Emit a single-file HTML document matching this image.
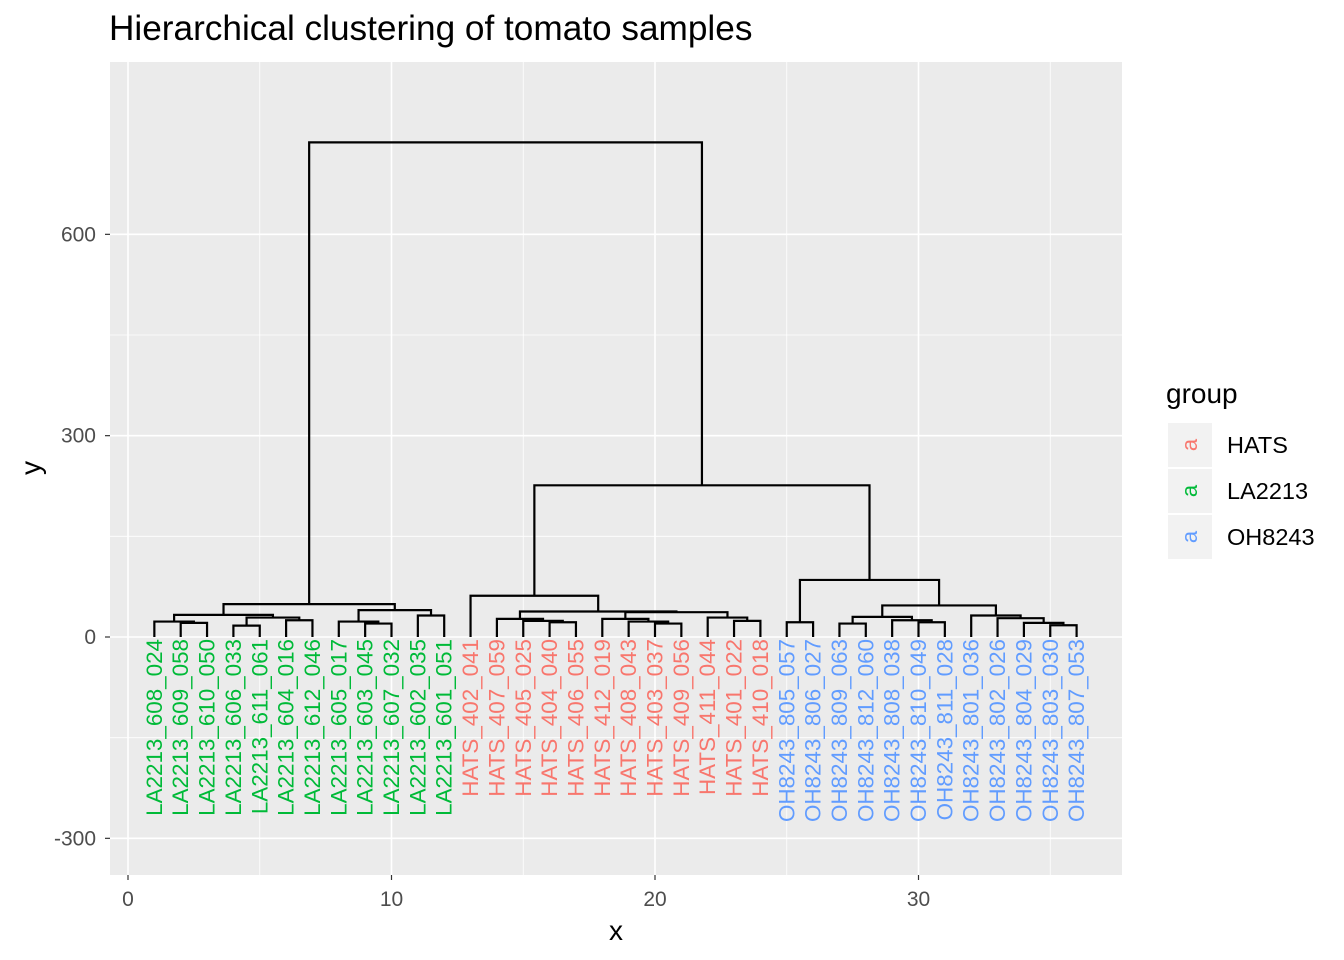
<!DOCTYPE html>
<html><head><meta charset="utf-8"><style>
body{margin:0;background:#fff;}
svg{display:block;font-family:"Liberation Sans",Arial,sans-serif;}
</style></head><body>
<svg id="chart" width="1344" height="960"></svg>
<script>
const leafLabels=["LA2213_608_024","LA2213_609_058","LA2213_610_050","LA2213_606_033","LA2213_611_061","LA2213_604_016","LA2213_612_046","LA2213_605_017","LA2213_603_045","LA2213_607_032","LA2213_602_035","LA2213_601_051",
"HATS_402_041","HATS_407_059","HATS_405_025","HATS_404_040","HATS_406_055","HATS_412_019","HATS_408_043","HATS_403_037","HATS_409_056","HATS_411_044","HATS_401_022","HATS_410_018",
"OH8243_805_057","OH8243_806_027","OH8243_809_063","OH8243_812_060","OH8243_808_038","OH8243_810_049","OH8243_811_028","OH8243_801_036","OH8243_802_026","OH8243_804_029","OH8243_803_030","OH8243_807_053"];
const leafGroups=["LA2213","LA2213","LA2213","LA2213","LA2213","LA2213","LA2213","LA2213","LA2213","LA2213","LA2213","LA2213",
"HATS","HATS","HATS","HATS","HATS","HATS","HATS","HATS","HATS","HATS","HATS","HATS",
"OH8243","OH8243","OH8243","OH8243","OH8243","OH8243","OH8243","OH8243","OH8243","OH8243","OH8243","OH8243"];
const mergeLeft =[-2,-1,-4,-6,3,2,-9,-8,-11,8,6,-16,-15,-14,-20,-19,-18,-23,-22,17,14,-13,-25,-27,-30,-29,24,-35,-34,-33,-32,27,23,22,11];
const mergeRight=[-3,1,-5,-7,4,5,-10,7,-12,9,10,-17,12,13,-21,15,16,-24,18,19,20,21,-26,-28,-31,25,26,-36,28,29,30,31,32,33,34];
const mergeHeight=[21,23,17,25,29,33,20,23,32,40,49,22,24,27,20,23,27,24,29,37,38,61.5,22,20,22,25,30,17.5,21,28,32,47,85,226,737];
const xTicks=[0,10,20,30];
const yTicks=[-300,0,300,600];
const groupNames=["HATS","LA2213","OH8243"];
const groupColors={"HATS":"#F8766D","LA2213":"#00BA38","OH8243":"#619CFF"};

const svg=document.getElementById('chart');
const NS="http://www.w3.org/2000/svg";
function mk(tag,attrs,parent){const e=document.createElementNS(NS,tag);for(const k in attrs)e.setAttribute(k,attrs[k]);(parent||svg).appendChild(e);return e;}
const P={l:110,r:1122,t:62,b:875};
const sx=v=>128+26.35*v;
const sy=v=>637-0.6711*v;

const bg=mk('rect',{x:P.l,y:P.t,width:P.r-P.l,height:P.b-P.t,fill:'#ebebeb'});


for(let i=0;i<xTicks.length;i++){const m=xTicks[i]+5;const g=mk('line',{x1:sx(m),x2:sx(m),y1:P.t,y2:P.b,stroke:'#fff','stroke-width':0.8});}
for(let i=0;i<yTicks.length-1;i++){const m=(yTicks[i]+yTicks[i+1])/2;const g=mk('line',{x1:P.l,x2:P.r,y1:sy(m),y2:sy(m),stroke:'#fff','stroke-width':0.8});}
xTicks.forEach(t=>{
 const g=mk('line',{x1:sx(t),x2:sx(t),y1:P.t,y2:P.b,stroke:'#fff','stroke-width':1.6});
 const k=mk('line',{x1:sx(t),x2:sx(t),y1:P.b,y2:P.b+5,stroke:'#333','stroke-width':1.2});
 const tx=mk('text',{x:sx(t),y:906,'text-anchor':'middle','font-size':21,fill:'#4d4d4d'});tx.textContent=t;
});
yTicks.forEach(t=>{
 const g=mk('line',{x1:P.l,x2:P.r,y1:sy(t),y2:sy(t),stroke:'#fff','stroke-width':1.6});
 const k=mk('line',{x1:P.l-5,x2:P.l,y1:sy(t),y2:sy(t),stroke:'#333','stroke-width':1.2});
 const tx=mk('text',{x:P.l-14,y:sy(t)+7,'text-anchor':'end','font-size':21,fill:'#4d4d4d'});tx.textContent=t;
});

// dendrogram
const cx=[],ch=[];
function pos(id){return id<0?{x:-id,h:0}:{x:cx[id-1],h:ch[id-1]};}
for(let i=0;i<mergeHeight.length;i++){
 const a=pos(mergeLeft[i]),b=pos(mergeRight[i]),h=mergeHeight[i];
 cx.push((a.x+b.x)/2);ch.push(h);
 const p=mk('path',{d:`M${sx(a.x)},${sy(a.h)}V${sy(h)}H${sx(b.x)}V${sy(b.h)}`,fill:'none',stroke:'#000','stroke-width':2.2});
 
 
}
leafLabels.forEach((lab,i)=>{
 const x=sx(i+1),y=639;
 const t=mk('text',{x:0,y:0,transform:`translate(${x+7.5},${y}) rotate(-90)`,'text-anchor':'end','font-size':22.4,fill:groupColors[leafGroups[i]]});
 t.textContent=lab;
 
 
});

// titles
let e=mk('text',{x:109,y:40,'font-size':35.2,fill:'#000'});e.textContent='Hierarchical clustering of tomato samples';
e=mk('text',{x:616,y:940,'text-anchor':'middle','font-size':28,fill:'#000'});e.textContent='x';
e=mk('text',{x:0,y:0,transform:'translate(40,468) rotate(-90)','text-anchor':'middle','font-size':28,fill:'#000'});e.textContent='y';

// legend
e=mk('text',{x:1166,y:403,'font-size':28,fill:'#000'});e.textContent='group';
groupNames.forEach((g,i)=>{
 const cy=445+46*i;
 const r=mk('rect',{x:1168,y:cy-22,width:44,height:44,fill:'#f2f2f2'});
 const a=mk('text',{x:0,y:0,transform:`translate(1197,${cy}) rotate(-90)`,'text-anchor':'middle','font-size':22,fill:groupColors[g]});a.textContent='a';
 const l=mk('text',{x:1227,y:cy+8,'font-size':23.5,fill:'#000'});l.textContent=g;
});
</script>
</body></html>
